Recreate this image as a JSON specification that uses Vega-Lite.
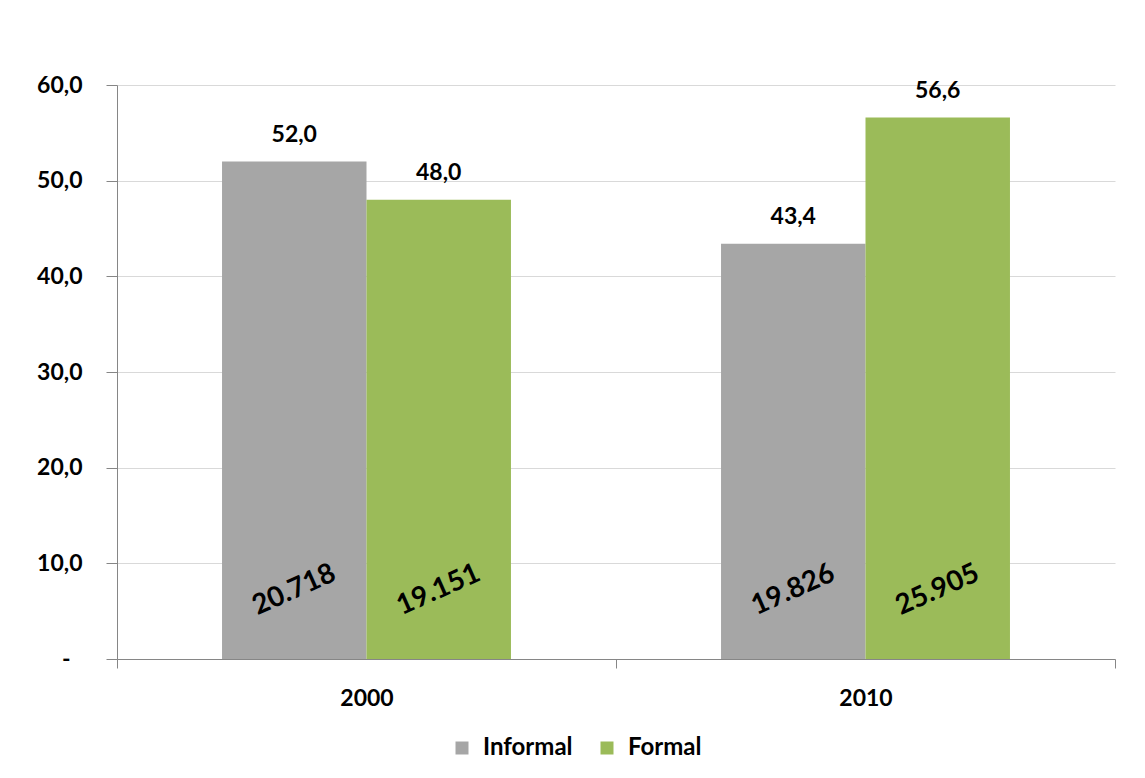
{
  "$schema": "https://vega.github.io/schema/vega-lite/v6.json",
  "autosize": "none",
  "width": 998,
  "height": 574,
  "padding": {"left": 117, "top": 85, "right": 30, "bottom": 119},
  "background": "white",
  "config": {
    "view": {"stroke": null},
    "font": "Lato",
    "locale": {"number": {"decimal": ",", "thousands": ".", "grouping": [3], "currency": ["", ""]}}
  },
  "data": {
    "values": [
      {"year": "2000", "type": "Informal", "pct": 52.0, "count": 20718},
      {"year": "2000", "type": "Formal", "pct": 48.0, "count": 19151},
      {"year": "2010", "type": "Informal", "pct": 43.4, "count": 19826},
      {"year": "2010", "type": "Formal", "pct": 56.6, "count": 25905}
    ]
  },
  "encoding": {
    "x": {
      "field": "year", "type": "nominal",
      "scale": {"paddingInner": 0, "paddingOuter": 0},
      "axis": {
        "title": null, "labelAngle": 0, "labelFont": "Lato", "labelFontWeight": "bold",
        "labelFontSize": 23, "labelColor": "black", "domainColor": "#868686",
        "tickColor": "#868686", "tickSize": 9, "tickBand": "extent", "labelPadding": 19, "grid": false
      }
    },
    "xOffset": {
      "field": "type", "type": "nominal", "sort": ["Informal", "Formal"],
      "scale": {"paddingInner": 0, "paddingOuter": 0.727}
    }
  },
  "layer": [
    {
      "mark": {"type": "bar"},
      "encoding": {
        "y": {
          "field": "pct", "type": "quantitative",
          "scale": {"domain": [0, 60], "nice": false},
          "axis": {
            "title": null, "values": [0, 10, 20, 30, 40, 50, 60], "format": ".1f",
            "labelExpr": "datum.value === 0 ? '-' : datum.label",
            "labelFont": "Lato", "labelFontWeight": "bold", "labelFontSize": 23, "labelColor": "black",
            "gridColor": "#d9d9d9", "domainColor": "#868686", "tickColor": "#868686",
            "tickSize": 11,
            "labelPadding": {"condition": {"test": "datum.value === 0", "value": 36}, "value": 24}
          }
        },
        "color": {
          "field": "type", "type": "nominal",
          "scale": {"domain": ["Informal", "Formal"], "range": ["#a6a6a6", "#9bbb59"]},
          "legend": {
            "title": null, "orient": "none", "direction": "horizontal",
            "legendX": 333, "legendY": 651, "symbolType": "square", "symbolSize": 169,
            "symbolStrokeWidth": 0, "labelFont": "Lato", "labelFontWeight": "bold",
            "labelFontSize": 24, "labelColor": "black", "labelOffset": 9, "columnPadding": 22
          }
        }
      }
    },
    {
      "mark": {"type": "text", "fontWeight": "bold", "fontSize": 23, "baseline": "alphabetic", "dy": -20, "color": "black"},
      "encoding": {
        "y": {"field": "pct", "type": "quantitative"},
        "text": {"field": "pct", "type": "quantitative", "format": ".1f"}
      }
    },
    {
      "mark": {"type": "text", "fontSize": 28, "fontWeight": "bold", "angle": -24, "baseline": "middle", "align": "center", "color": "black"},
      "encoding": {
        "y": {"datum": 7.2},
        "text": {"field": "count", "type": "quantitative", "format": ",d"}
      }
    }
  ]
}
